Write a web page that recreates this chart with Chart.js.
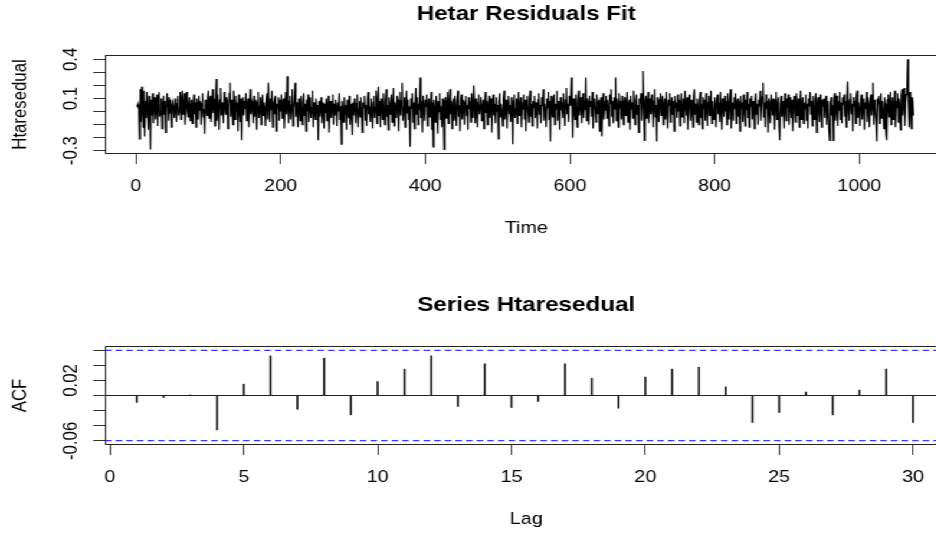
<!DOCTYPE html>
<html><head><meta charset="utf-8">
<script src="https://cdn.jsdelivr.net/npm/chart.js@4.4.1/dist/chart.umd.min.js"></script>
<style>
html,body{margin:0;padding:0;background:#fff;overflow:hidden;width:936px;height:535px;}
#stretch{position:absolute;left:0;top:0;width:810px;height:582px;transform:scaleX(1.18);transform-origin:0 0;}
#p1,#p2{position:absolute;left:0;width:810px;height:291px;}
#p1{top:0}
#p2{top:291px}
</style></head><body>
<div id="stretch">
<div id="p1"><canvas id="c1" width="810" height="291"></canvas></div>
<div id="p2"><canvas id="c2" width="810" height="291"></canvas></div>
</div>
<script>
// ---------- data ----------
const residuals = [
0.05,0.04,0.06,0.02,-0.21,0.17,-0.08,0.19,0.03,-0.12,0.16,-0.19,0.08,-0.05,0.15,0.01,-0.14,0.12,0.04,-0.29,0.09,-0.03,0.14,-0.09,0.06,
0.11,-0.06,0.02,0.13,-0.11,0.07,0.15,-0.04,0.00,0.10,-0.13,0.05,0.12,-0.02,0.08,-0.16,0.03,0.14,0.06,-0.07,0.11,-0.01,0.09,-0.12,0.04,
0.07,0.02,-0.05,0.10,0.03,-0.08,0.06,0.12,-0.03,0.01,0.15,-0.06,0.09,0.16,-0.02,0.04,0.14,-0.10,0.08,0.15,0.00,-0.04,0.06,0.11,-0.07,
0.03,0.09,-0.09,0.05,0.13,-0.02,0.07,-0.12,0.10,0.04,-0.06,0.12,0.01,0.08,-0.10,0.06,0.14,-0.04,0.02,-0.17,0.09,0.05,-0.03,0.11,0.16,
-0.05,0.08,0.12,-0.08,0.04,0.17,-0.01,0.10,-0.11,0.06,0.25,-0.07,0.13,0.03,-0.14,0.09,0.18,-0.03,0.07,0.01,-0.09,0.15,0.05,-0.02,0.11,
0.08,-0.13,0.04,0.14,0.22,-0.04,0.09,0.02,-0.10,0.16,0.06,-0.06,0.12,0.00,0.07,-0.15,0.13,0.03,-0.08,0.10,-0.22,0.05,0.11,-0.03,0.08,
0.02,0.14,-0.07,0.06,0.10,-0.12,0.03,0.17,-0.02,0.08,0.05,-0.09,0.12,-0.04,0.09,0.01,-0.14,0.07,0.15,-0.05,0.04,0.11,-0.10,0.06,0.13,
-0.03,0.07,0.02,-0.11,0.09,0.14,-0.06,0.22,0.04,-0.08,0.10,0.01,0.16,-0.12,0.05,0.08,-0.02,0.12,-0.15,0.06,0.03,0.11,-0.07,0.09,0.00,
0.13,-0.05,0.06,0.10,-0.13,0.04,0.15,-0.02,0.27,0.03,-0.09,0.08,0.12,-0.06,0.05,0.17,-0.11,0.02,0.09,0.22,-0.04,0.07,0.01,-0.12,0.10,
0.04,-0.07,0.12,0.02,-0.10,0.08,0.14,-0.03,0.06,-0.15,0.09,0.00,0.13,-0.08,0.05,0.11,-0.05,0.03,0.16,-0.12,0.07,0.01,-0.06,0.10,-0.02,
0.05,-0.22,0.08,-0.04,0.03,0.11,-0.09,0.02,0.07,-0.13,0.06,-0.01,0.10,-0.07,0.04,0.12,-0.16,0.01,0.08,-0.05,0.03,0.13,-0.10,0.06,-0.03,
0.09,0.02,-0.11,0.07,0.00,0.14,-0.06,0.04,-0.25,0.08,0.03,-0.08,0.11,-0.02,0.05,-0.14,0.09,0.01,-0.05,0.12,-0.10,0.06,0.02,-0.18,0.07,
-0.03,0.10,0.04,-0.09,0.06,0.13,-0.12,0.02,0.08,-0.04,0.11,0.00,-0.16,0.07,0.03,0.12,-0.07,0.05,-0.11,0.09,0.15,-0.02,0.04,-0.08,0.10,
0.01,-0.13,0.07,0.12,-0.05,0.03,0.16,-0.09,0.06,0.19,-0.03,0.08,-0.12,0.10,0.04,-0.06,0.14,0.02,-0.10,0.09,0.17,-0.04,0.05,-0.14,0.11,
0.06,-0.02,0.13,-0.08,0.04,0.18,-0.11,0.07,0.02,-0.05,0.12,0.09,-0.15,0.05,0.15,-0.03,0.08,0.22,-0.07,0.03,0.11,-0.12,0.06,0.16,-0.01,
0.09,-0.06,0.04,-0.27,0.10,0.02,0.14,-0.08,0.07,-0.13,0.05,0.18,-0.02,0.11,-0.10,0.06,0.01,0.26,-0.05,0.08,-0.16,0.12,0.03,-0.07,0.09,
0.04,0.13,-0.11,0.06,0.10,-0.04,0.02,0.15,-0.14,0.07,-0.27,0.09,0.03,-0.08,0.12,0.05,-0.17,0.08,0.00,0.14,-0.06,0.04,-0.12,0.10,0.02,
-0.29,0.07,0.11,-0.05,0.03,0.15,-0.09,0.06,0.17,-0.02,0.08,-0.13,0.04,0.10,-0.07,0.12,0.01,-0.11,0.09,0.16,-0.04,0.05,-0.15,0.08,0.13,
-0.06,0.04,0.09,-0.10,0.07,0.12,-0.03,0.05,-0.14,0.11,0.02,0.08,-0.08,0.14,0.03,-0.05,0.20,0.06,-0.09,0.10,0.01,-0.12,0.07,0.13,-0.02,
0.05,0.11,-0.07,0.03,0.09,-0.13,0.06,0.15,-0.01,0.08,-0.10,0.04,0.12,-0.05,0.02,0.10,-0.16,0.07,0.13,-0.03,0.06,-0.09,0.11,0.00,0.05,
-0.21,0.08,0.14,-0.04,0.06,0.01,-0.11,0.10,0.16,-0.06,0.03,0.09,-0.13,0.07,0.12,-0.02,0.05,-0.08,0.11,0.04,-0.25,0.08,0.13,-0.05,0.02,
0.10,-0.09,0.06,0.15,-0.03,0.04,0.11,-0.12,0.07,0.02,0.13,-0.06,0.09,-0.15,0.05,0.12,0.01,-0.08,0.10,0.16,-0.04,0.06,-0.11,0.08,0.03,
0.12,-0.05,0.07,0.02,-0.13,0.09,0.14,-0.02,0.05,-0.09,0.11,0.04,0.17,-0.07,0.06,0.00,-0.12,0.10,0.03,0.15,-0.06,0.08,-0.23,0.12,0.05,
-0.04,0.09,0.13,-0.10,0.06,0.02,0.16,-0.07,0.08,0.04,-0.14,0.11,0.01,0.07,-0.05,0.14,0.03,-0.11,0.09,0.18,-0.02,0.06,-0.08,0.12,0.05,
0.07,0.26,0.03,-0.20,0.10,0.05,-0.06,0.13,0.02,-0.12,0.09,0.16,-0.03,0.07,0.11,-0.09,0.04,0.14,-0.05,0.08,0.01,0.26,-0.07,0.10,0.06,
-0.10,0.12,0.04,0.08,-0.04,0.15,-0.13,0.06,0.10,0.02,-0.08,0.13,0.05,-0.02,0.09,-0.15,0.07,0.11,-0.19,0.04,0.14,-0.06,0.08,0.01,0.12,
-0.05,0.09,0.03,-0.11,0.13,0.06,0.17,-0.04,0.08,-0.09,0.11,0.02,0.26,-0.07,0.10,0.05,-0.12,0.14,0.03,0.08,-0.06,0.12,0.00,-0.10,0.07,
0.11,-0.03,0.06,0.15,-0.08,0.04,0.09,-0.14,0.12,0.02,0.07,-0.05,0.16,0.03,-0.10,0.08,0.13,-0.02,0.05,-0.16,0.10,0.06,0.14,-0.07,0.04,
0.31,0.05,-0.22,0.09,0.12,-0.05,0.07,0.15,-0.09,0.03,0.10,-0.02,0.13,0.06,-0.12,0.08,0.17,-0.04,0.05,-0.23,0.11,0.02,-0.08,0.09,0.14,
-0.03,0.07,0.12,-0.10,0.04,0.10,-0.06,0.15,0.01,-0.13,0.09,0.05,0.14,-0.08,0.06,0.11,-0.02,0.08,-0.15,0.12,0.03,0.07,-0.05,0.13,0.00,
0.09,-0.11,0.06,0.14,-0.04,0.02,0.10,-0.09,0.16,0.05,-0.03,0.11,-0.14,0.07,0.13,0.01,-0.07,0.09,0.04,-0.12,0.12,0.17,-0.02,0.06,-0.08,
0.10,0.03,-0.10,0.08,0.15,-0.05,0.06,-0.13,0.11,0.02,0.09,-0.07,0.14,0.04,-0.11,0.07,0.12,-0.03,0.05,0.16,-0.09,0.08,0.01,-0.06,0.11,
0.04,-0.12,0.09,0.13,-0.02,0.07,-0.08,0.15,0.03,-0.14,0.10,0.06,-0.04,0.12,0.00,0.08,-0.10,0.14,0.05,-0.06,0.09,0.17,-0.13,0.04,0.07,
-0.07,0.11,0.02,0.14,-0.09,0.06,0.10,-0.04,0.08,-0.15,0.12,0.03,0.07,-0.08,0.13,0.05,-0.11,0.09,0.01,0.15,-0.05,0.06,-0.12,0.10,0.04,
0.12,-0.06,0.08,0.03,-0.13,0.10,0.14,-0.02,0.06,-0.10,0.09,0.04,0.16,-0.07,0.05,0.11,0.22,-0.04,0.07,-0.12,0.13,0.02,0.08,-0.16,0.10,
0.05,-0.09,0.13,0.07,-0.03,0.10,0.01,-0.14,0.09,0.15,-0.06,0.04,0.11,-0.11,-0.22,0.06,0.12,-0.04,0.08,0.02,-0.13,0.14,0.05,-0.07,0.10,
0.03,0.13,-0.10,0.07,0.11,-0.05,0.09,-0.15,0.04,0.12,0.01,-0.08,0.14,0.06,-0.03,0.10,-0.12,0.08,0.16,-0.06,0.05,0.11,-0.09,0.07,0.02,
0.13,-0.07,0.06,-0.13,0.10,0.04,0.15,-0.02,0.08,-0.11,0.12,0.03,-0.06,0.09,0.14,-0.16,0.05,0.11,0.00,-0.08,0.13,0.06,-0.12,0.09,0.04,
0.10,-0.05,0.07,0.12,-0.10,0.03,0.08,-0.14,-0.22,0.06,0.11,-0.03,0.05,-0.22,0.09,0.14,-0.07,0.04,0.12,-0.11,0.08,0.01,0.15,-0.06,0.07,
-0.09,0.11,0.05,0.13,-0.04,0.08,-0.12,0.10,0.23,0.02,-0.07,0.09,0.14,-0.02,0.06,-0.15,0.11,0.04,0.08,-0.09,0.12,0.16,-0.05,0.07,0.01,
-0.11,0.09,0.13,-0.06,0.05,0.10,-0.14,0.07,0.02,0.15,-0.08,0.11,0.04,-0.12,0.08,0.13,-0.03,0.06,0.22,-0.10,0.09,0.03,-0.07,-0.23,0.10,
0.06,0.12,-0.09,0.04,0.14,-0.05,0.08,0.01,-0.13,0.11,0.06,-0.17,-0.22,0.09,0.13,-0.04,0.07,0.15,-0.10,0.05,0.11,-0.06,0.02,0.16,-0.12,
0.08,0.03,0.14,-0.08,0.10,0.05,-0.14,0.12,0.17,-0.03,0.09,0.18,-0.11,0.07,0.13,0.20,0.40,0.06,-0.12,0.15,0.02,-0.13,0.11,0.08,-0.03
];
const timeTicks = [0, 200, 400, 600, 800, 1000];
const residTicks = [0.4, 0.3, 0.2, 0.1, 0, -0.1, -0.2, -0.3];
const residTickLabels = [0.4, 0.1, -0.3];

const acfLags = [1,2,3,4,5,6,7,8,9,10,11,12,13,14,15,16,17,18,19,20,21,22,23,24,25,26,27,28,29,30];
const acfValues = [-0.0092,-0.0026,0.0005,-0.0454,0.0150,0.0525,-0.0180,0.0494,-0.0256,0.0185,
                   0.0349,0.0525,-0.0146,0.0419,-0.0159,-0.0079,0.0419,0.0229,-0.0168,0.0243,
                   0.0349,0.0375,0.0115,-0.0357,-0.0225,0.0044,-0.0256,0.0071,0.0349,-0.0357];
const acfConfLimit = 0.0598;
const lagTicks = [0, 5, 10, 15, 20, 25, 30];
const acfTicks = [0.06, 0.04, 0.02, 0, -0.02, -0.04, -0.06];
const acfTickLabels = [0.02, -0.06];

// ---------- drawing ----------
const FONT = "'Liberation Sans', Arial, Helvetica, sans-serif";
const TXT = 16.8;
const TIME_MIN = -42.8, TIME_MAX = 1122;
const LAG_MIN = -0.185, LAG_MAX = 31.29;

const rFrame = {
  id: 'rFrame',
  afterDraw(chart, args, opts) {
    const ctx = chart.ctx, a = chart.chartArea;
    ctx.save();
    ctx.strokeStyle = '#222';
    ctx.lineWidth = 1;
    ctx.strokeRect(a.left + 0.5, a.top + 0.5, a.right - a.left - 1, a.bottom - a.top - 1);
    const ys = chart.scales.y;
    ctx.fillStyle = '#000';
    ctx.font = TXT + 'px ' + FONT;
    ctx.textAlign = 'center';
    ctx.textBaseline = 'alphabetic';
    for (const v of opts.labels) {
      ctx.save();
      ctx.translate(opts.labelX, ys.getPixelForValue(v));
      ctx.rotate(-Math.PI / 2);
      ctx.fillText(String(v), 0, 0);
      ctx.restore();
    }
    ctx.restore();
  }
};

function xAxis(min, max, ticks, title) {
  return {
    type: 'linear', min, max, offset: false,
    afterBuildTicks: s => { s.ticks = ticks.map(v => ({ value: v })); },
    afterFit: s => { s.height = 137; },
    grid: { display: true, offset: false, drawOnChartArea: false, drawTicks: true, tickLength: 10, tickColor: '#333', tickWidth: 1 },
    border: { display: false },
    ticks: { color: '#000', font: { family: FONT, size: TXT }, padding: 12, maxRotation: 0, autoSkip: false, callback: v => String(v) },
    title: { display: true, text: title, color: '#000', font: { family: FONT, size: TXT }, padding: { top: 0, bottom: 52.4 } }
  };
}
function yAxis(min, max, ticks, title, zeroLine) {
  return {
    type: 'linear', min, max,
    afterBuildTicks: s => { s.ticks = ticks.map(v => ({ value: v })); },
    afterFit: s => { s.width = 89; },
    grid: {
      display: true, drawOnChartArea: zeroLine, drawTicks: true, tickLength: 10, tickColor: '#333', tickWidth: 1,
      color: c => (zeroLine && c.tick && c.tick.value === 0) ? '#222' : 'rgba(0,0,0,0)'
    },
    border: { display: false },
    ticks: { display: false },
    title: { display: true, text: title, color: '#000', font: { family: FONT, size: TXT }, padding: { top: 7, bottom: 0 } }
  };
}
function baseOptions(titleText, frameOpts) {
  return {
    responsive: false, animation: false, devicePixelRatio: 1,
    layout: { padding: { left: 0, right: 7, top: 0, bottom: 0 } },
    plugins: {
      legend: { display: false },
      tooltip: { enabled: false },
      title: { display: true, text: titleText, color: '#000', fullSize: false,
               font: { family: FONT, size: 20.5, weight: 'bold' }, padding: { top: 2, bottom: 28.4 } },
      rFrame: frameOpts
    }
  };
}

const opt1 = baseOptions('Hetar Residuals Fit', { labels: residTickLabels, labelX: 64.5 });
opt1.scales = { x: xAxis(TIME_MIN, TIME_MAX, timeTicks, 'Time'), y: yAxis(-0.325, 0.433, residTicks, 'Htaresedual', false) };
new Chart(document.getElementById('c1'), {
  type: 'line',
  data: { datasets: [{
    data: residuals.map((v, i) => ({ x: i + 1, y: v })),
    borderColor: '#000', borderWidth: 1.25, pointRadius: 0, tension: 0, fill: false
  }] },
  options: opt1,
  plugins: [rFrame]
});

const opt2 = baseOptions('Series Htaresedual', { labels: acfTickLabels, labelX: 64.5 });
opt2.scales = { x: xAxis(LAG_MIN, LAG_MAX, lagTicks, 'Lag'), y: yAxis(-0.0655, 0.0655, acfTicks, 'ACF', true) };
new Chart(document.getElementById('c2'), {
  type: 'bar',
  data: { datasets: [
    { type: 'bar', data: acfLags.map((l, i) => ({ x: l, y: acfValues[i] })), backgroundColor: '#111', borderWidth: 0, barThickness: 1, grouped: false },
    { type: 'line', data: [{ x: LAG_MIN, y: acfConfLimit }, { x: LAG_MAX, y: acfConfLimit }], borderColor: '#3a3aff', borderWidth: 1.2, borderDash: [5.5, 3.5], pointRadius: 0 },
    { type: 'line', data: [{ x: LAG_MIN, y: -acfConfLimit }, { x: LAG_MAX, y: -acfConfLimit }], borderColor: '#3a3aff', borderWidth: 1.2, borderDash: [5.5, 3.5], pointRadius: 0 }
  ] },
  options: opt2,
  plugins: [rFrame]
});
</script>
</body></html>
